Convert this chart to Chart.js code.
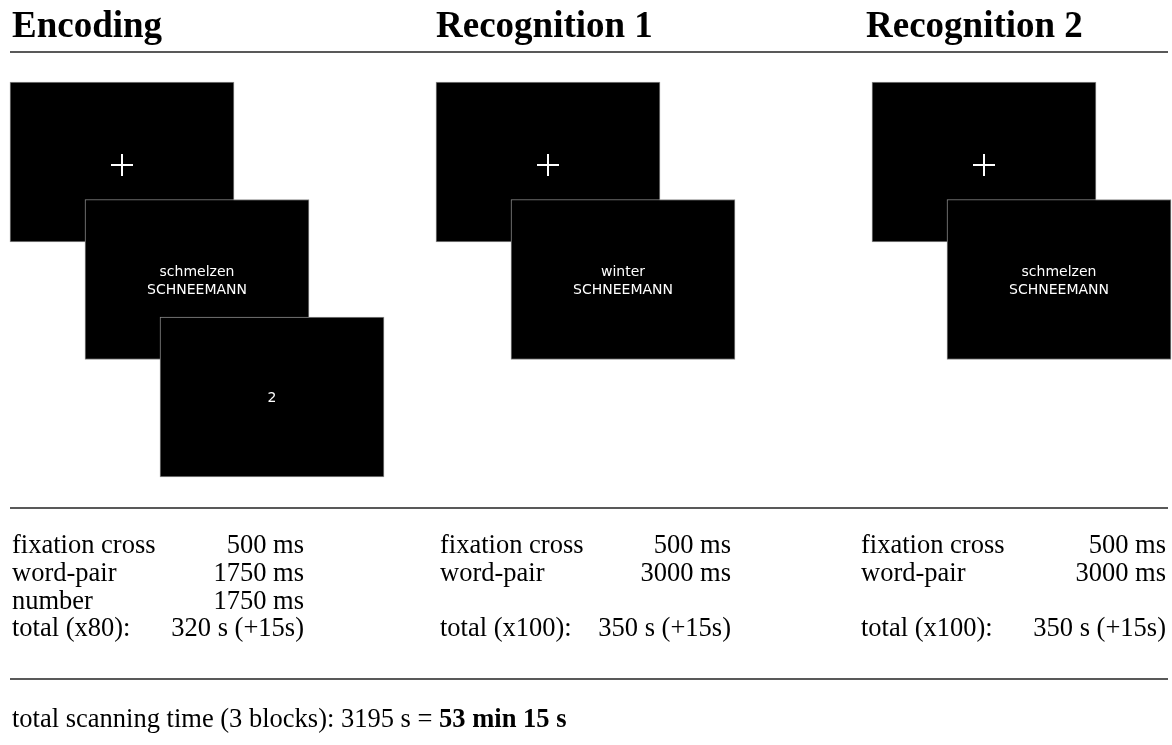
<!DOCTYPE html>
<html>
<head>
<meta charset="utf-8">
<script src="https://cdn.jsdelivr.net/npm/chart.js@4.4.1/dist/chart.umd.min.js"></script>
<style>
  body { margin: 0; background: #fff; }
  canvas { display: block; }
</style>
</head>
<body>
<canvas id="chart_paradigma" width="1172" height="745"></canvas>
<script>
// Dados do paradigma
var blocos = ['Encoding', 'Recognition 1', 'Recognition 2'];
var telas = [
  ['+', 'schmelzen\nSCHNEEMANN', '2'],
  ['+', 'winter\nSCHNEEMANN'],
  ['+', 'schmelzen\nSCHNEEMANN']
];
var rotulos = [
  ['fixation cross', 'word-pair', 'number', 'total (x80):'],
  ['fixation cross', 'word-pair', '', 'total (x100):'],
  ['fixation cross', 'word-pair', '', 'total (x100):']
];
var duracoes = [
  ['500 ms', '1750 ms', '1750 ms', '320 s (+15s)'],
  ['500 ms', '3000 ms', '', '350 s (+15s)'],
  ['500 ms', '3000 ms', '', '350 s (+15s)']
];
var totalTexto = 'total scanning time (3 blocks): 3195 s = ';
var totalDestaque = '53 min 15 s';

// Layout (posições em px da página)
var blocoX = [10, 436, 872];      // borda esquerda da primeira tela
var tituloX = [12, 436, 866];
var rotuloX = [12, 440, 861];
var valorX = [304, 731, 1166];    // alinhado à direita
var telaL = 224, telaA = 160, passoX = 75, passoY = 117.5, telaTopo = 82;
var linhasY = [52, 508, 679];
var baseLinhas = [553, 581, 609, 636];

// uma série por "nível" de tela (0 = cruz, 1 = palavras, 2 = número)
var niveis = [0, 1, 2].map(function (k) {
  var pts = [];
  telas.forEach(function (lista, b) {
    if (lista[k] === undefined) return;
    var x0 = blocoX[b] + k * passoX;
    var y0 = telaTopo + k * passoY;
    pts.push({ x: x0 + telaL / 2, y: [y0, y0 + telaA], texto: lista[k] });
  });
  return pts;
});

var datasets = niveis.map(function (pts, k) {
  return {
    type: 'bar',
    data: pts,
    backgroundColor: '#000',
    borderColor: '#8a8a8a',
    borderWidth: 1,
    borderSkipped: false,
    barThickness: telaL,
    grouped: false,
    order: 3 - k
  };
});

// cruzes de fixação, no centro das telas do nível 0
datasets.push({
  type: 'scatter',
  data: niveis[0].filter(function (p) { return p.texto === '+'; }).map(function (p) {
    return { x: p.x, y: (p.y[0] + p.y[1]) / 2 + 3 };
  }),
  pointStyle: 'cross',
  radius: 11,
  borderColor: '#fff',
  borderWidth: 2,
  order: 0
});

var textos = {
  id: 'textos',
  afterDatasetsDraw: function (chart) {
    var ctx = chart.ctx;
    var sx = chart.scales.x, sy = chart.scales.y;
    ctx.save();

    // textos dentro das telas
    ctx.fillStyle = '#fff';
    ctx.font = '14px "DejaVu Sans"';
    ctx.textAlign = 'center';
    ctx.textBaseline = 'middle';
    niveis.forEach(function (pts) {
      pts.forEach(function (p) {
        if (p.texto === '+') return;
        var cx = sx.getPixelForValue(p.x);
        var cy = sy.getPixelForValue((p.y[0] + p.y[1]) / 2);
        var partes = p.texto.split('\n');
        if (partes.length === 1) {
          ctx.fillText(partes[0], cx, cy + 1);
        } else {
          ctx.fillText(partes[0], cx, cy - 7);
          ctx.fillText(partes[1], cx, cy + 11);
        }
      });
    });

    // títulos
    ctx.fillStyle = '#000';
    ctx.textAlign = 'left';
    ctx.textBaseline = 'alphabetic';
    ctx.font = 'bold 37px "Liberation Serif"';
    blocos.forEach(function (t, b) {
      ctx.fillText(t, sx.getPixelForValue(tituloX[b]), sy.getPixelForValue(37));
    });

    // linhas separadoras
    ctx.strokeStyle = '#222';
    ctx.lineWidth = 1.5;
    linhasY.forEach(function (y) {
      ctx.beginPath();
      ctx.moveTo(sx.getPixelForValue(10), sy.getPixelForValue(y));
      ctx.lineTo(sx.getPixelForValue(1168), sy.getPixelForValue(y));
      ctx.stroke();
    });

    // tabela de tempos
    ctx.font = '26.5px "Liberation Serif"';
    rotulos.forEach(function (lista, b) {
      lista.forEach(function (r, i) {
        var y = sy.getPixelForValue(baseLinhas[i]);
        ctx.textAlign = 'left';
        ctx.fillText(r, sx.getPixelForValue(rotuloX[b]), y);
        ctx.textAlign = 'right';
        ctx.fillText(duracoes[b][i], sx.getPixelForValue(valorX[b]), y);
      });
    });

    // total
    ctx.textAlign = 'left';
    var yT = sy.getPixelForValue(727);
    var xT = sx.getPixelForValue(12);
    ctx.fillText(totalTexto, xT, yT);
    var w = ctx.measureText(totalTexto).width;
    ctx.font = 'bold 26.5px "Liberation Serif"';
    ctx.fillText(totalDestaque, xT + w, yT);

    ctx.restore();
  }
};

new Chart(document.getElementById('chart_paradigma'), {
  type: 'bar',
  data: { datasets: datasets },
  options: {
    responsive: false,
    animation: false,
    events: [],
    layout: { padding: 0, autoPadding: false },
    scales: {
      x: { type: 'linear', min: 0, max: 1172, offset: false, display: false },
      y: { type: 'linear', min: 0, max: 745, reverse: true, display: false }
    },
    plugins: {
      legend: { display: false },
      tooltip: { enabled: false },
      title: { display: false }
    }
  },
  plugins: [textos]
});
</script>
</body>
</html>
